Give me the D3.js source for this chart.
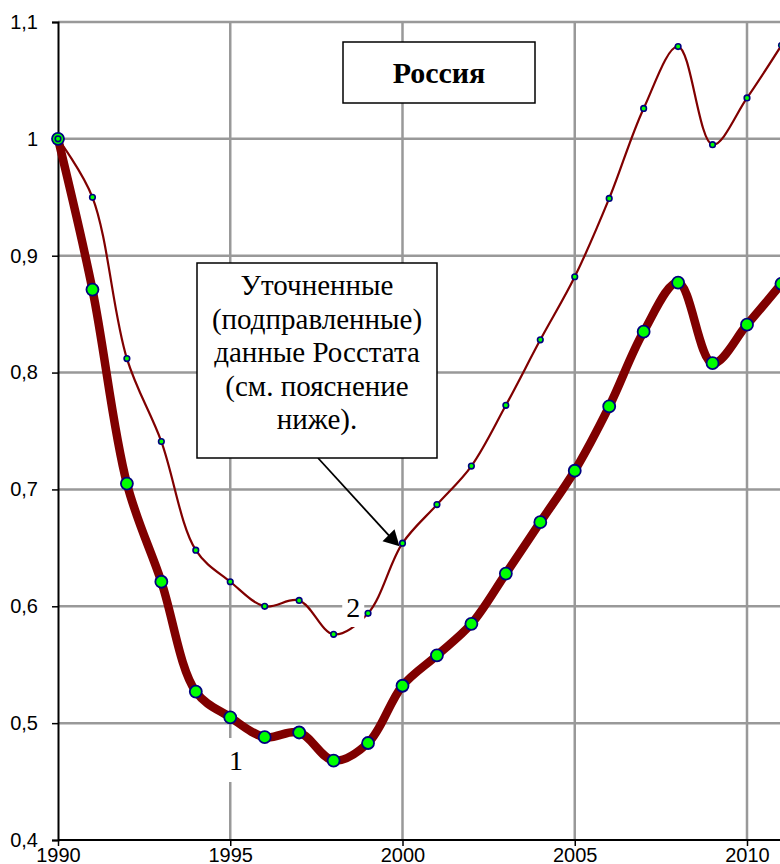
<!DOCTYPE html>
<html>
<head>
<meta charset="utf-8">
<script src="https://cdn.jsdelivr.net/npm/d3@7/dist/d3.min.js"></script>
<style>
  body { margin: 0; background: #fff; }
  svg { display: block; }
</style>
</head>
<body>
<svg id="chart" width="780" height="864"></svg>
<script>
// data
var years = [1990, 1991, 1992, 1993, 1994, 1995, 1996, 1997, 1998, 1999, 2000,
             2001, 2002, 2003, 2004, 2005, 2006, 2007, 2008, 2009, 2010, 2011];
// line 1 - original data
var series1 = [1.0, 0.871, 0.705, 0.621, 0.527, 0.505, 0.488, 0.492, 0.468, 0.483, 0.532,
               0.558, 0.585, 0.628, 0.672, 0.716, 0.771, 0.835, 0.877, 0.808, 0.841, 0.876];
// line 2 - corrected Rosstat data
var series2 = [1.0, 0.950, 0.812, 0.741, 0.648, 0.621, 0.600, 0.605, 0.576, 0.594, 0.654,
               0.687, 0.720, 0.772, 0.828, 0.882, 0.949, 1.026, 1.079, 0.995, 1.035, 1.080];
var yTicks = [0.4, 0.5, 0.6, 0.7, 0.8, 0.9, 1.0, 1.1];
var xTicks = [1990, 1995, 2000, 2005, 2010];
var titleText = "Россия";
var noteLines = ["Уточненные", "(подправленные)", "данные Росстата", "(см. пояснение", "ниже)."];

var svg = d3.select("#chart");
var plotLeft = 58, plotTop = 22, plotBottom = 840, plotRight = 800;

var x = d3.scaleLinear().domain([1990, 2010]).range([plotLeft, 747]);
var y = d3.scaleLinear().domain([0.4, 1.1]).range([plotBottom, plotTop]);

var fmt = function (d) { return String(+d.toFixed(1)).replace(".", ","); };
var serif = "'Liberation Serif', 'Times New Roman', serif";

//////////////////////////////////////////////////////////
// grid
var grid = svg.append("g").attr("class", "grid");
grid.selectAll(".hg")
    .data(yTicks.slice(1))
    .enter().append("line")
    .attr("x1", plotLeft).attr("x2", plotRight)
    .attr("y1", function (d) { return y(d); })
    .attr("y2", function (d) { return y(d); })
    .style("stroke", "#999")
    .style("stroke-width", 2.5);
grid.selectAll(".vg")
    .data(xTicks.slice(1))
    .enter().append("line")
    .attr("x1", function (d) { return x(d); })
    .attr("x2", function (d) { return x(d); })
    .attr("y1", plotTop).attr("y2", plotBottom)
    .style("stroke", "#999")
    .style("stroke-width", 2.5);

// axes
var yAxis = svg.append("g")
    .attr("transform", "translate(" + plotLeft + ",0)")
    .call(d3.axisLeft(y).tickValues(yTicks).tickSize(6).tickPadding(14).tickFormat(fmt));
var xAxis = svg.append("g")
    .attr("transform", "translate(0," + plotBottom + ")")
    .call(d3.axisBottom(x).tickValues(xTicks).tickSize(6).tickPadding(2).tickFormat(d3.format("d")));

[yAxis, xAxis].forEach(function (a) {
    a.attr("font-size", null).attr("font-family", null);
    a.select(".domain").style("stroke", "#000").style("stroke-width", 2);
    a.selectAll(".tick line").style("stroke", "#000").style("stroke-width", 1.5);
    a.selectAll("text")
        .style("font-family", "'Liberation Sans', Arial, sans-serif")
        .style("font-size", "20px")
        .style("fill", "#000");
});
xAxis.select(".domain").attr("d", "M" + plotLeft + ",0H" + plotRight);

//////////////////////////////////////////////////////////
// lines
var line = d3.line()
    .x(function (d) { return x(d.year); })
    .y(function (d) { return y(d.v); })
    .curve(d3.curveCatmullRom.alpha(0.5));

var d1 = years.map(function (yr, i) { return { year: yr, v: series1[i] }; });
var d2 = years.map(function (yr, i) { return { year: yr, v: series2[i] }; });

svg.append("path")
    .datum(d1)
    .attr("d", line)
    .style("fill", "none")
    .style("stroke", "#800000")
    .style("stroke-width", 8.5)
    .style("stroke-linejoin", "round");

svg.append("path")
    .datum(d2)
    .attr("d", line)
    .style("fill", "none")
    .style("stroke", "#800000")
    .style("stroke-width", 2.2);

//////////////////////////////////////////////////////////
// series labels with white background (under the markers)
function seriesLabel(txt, cx, cy, w, h) {
    svg.append("rect")
        .attr("x", cx - w / 2).attr("y", cy - h / 2)
        .attr("width", w).attr("height", h)
        .style("fill", "#fff");
    svg.append("text")
        .attr("x", cx).attr("y", cy)
        .attr("dy", "0.35em")
        .style("text-anchor", "middle")
        .style("font-family", serif)
        .style("font-size", "28px")
        .text(txt);
}
seriesLabel("1", x(1995.17), 760, 30, 44);
seriesLabel("2", x(1998.57), 607, 22, 40);

svg.selectAll(".m1")
    .data(d1)
    .enter().append("circle")
    .attr("cx", function (d) { return x(d.year); })
    .attr("cy", function (d) { return y(d.v); })
    .attr("r", 6)
    .style("fill", "#00ff00")
    .style("stroke", "#000080")
    .style("stroke-width", 1.8);

svg.selectAll(".m2")
    .data(d2)
    .enter().append("circle")
    .attr("cx", function (d) { return x(d.year); })
    .attr("cy", function (d) { return y(d.v); })
    .attr("r", 2.8)
    .style("fill", "#00ff00")
    .style("stroke", "#000080")
    .style("stroke-width", 1.6);

//////////////////////////////////////////////////////////
// title box
svg.append("rect")
    .attr("x", 343).attr("y", 42).attr("width", 192).attr("height", 61)
    .style("fill", "#fff").style("stroke", "#000").style("stroke-width", 1.5);
svg.append("text")
    .attr("x", 439).attr("y", 72).attr("dy", "0.35em")
    .style("text-anchor", "middle")
    .style("font-family", serif)
    .style("font-weight", "bold")
    .style("font-size", "30px")
    .text(titleText);

// note box with arrow
var arrowTip = [x(2000) - 3, y(series2[10]) + 3];
svg.append("line")
    .attr("x1", 318).attr("y1", 458)
    .attr("x2", arrowTip[0] - 10).attr("y2", arrowTip[1] - 10)
    .style("stroke", "#000").style("stroke-width", 1.8);
svg.append("path")
    .attr("d", "M" + arrowTip[0] + "," + arrowTip[1] +
        "L" + (arrowTip[0] - 5) + "," + (arrowTip[1] - 17) +
        "L" + (arrowTip[0] - 17) + "," + (arrowTip[1] - 5) + "Z")
    .style("fill", "#000");

svg.append("rect")
    .attr("x", 197).attr("y", 263).attr("width", 240).attr("height", 195)
    .style("fill", "#fff").style("stroke", "#000").style("stroke-width", 1.5);
svg.selectAll(".note")
    .data(noteLines)
    .enter().append("text")
    .attr("x", 317)
    .attr("y", function (d, i) { return 295 + i * 33.5; })
    .style("text-anchor", "middle")
    .style("font-family", serif)
    .style("font-size", "29px")
    .text(function (d) { return d; });
</script>
</body>
</html>
